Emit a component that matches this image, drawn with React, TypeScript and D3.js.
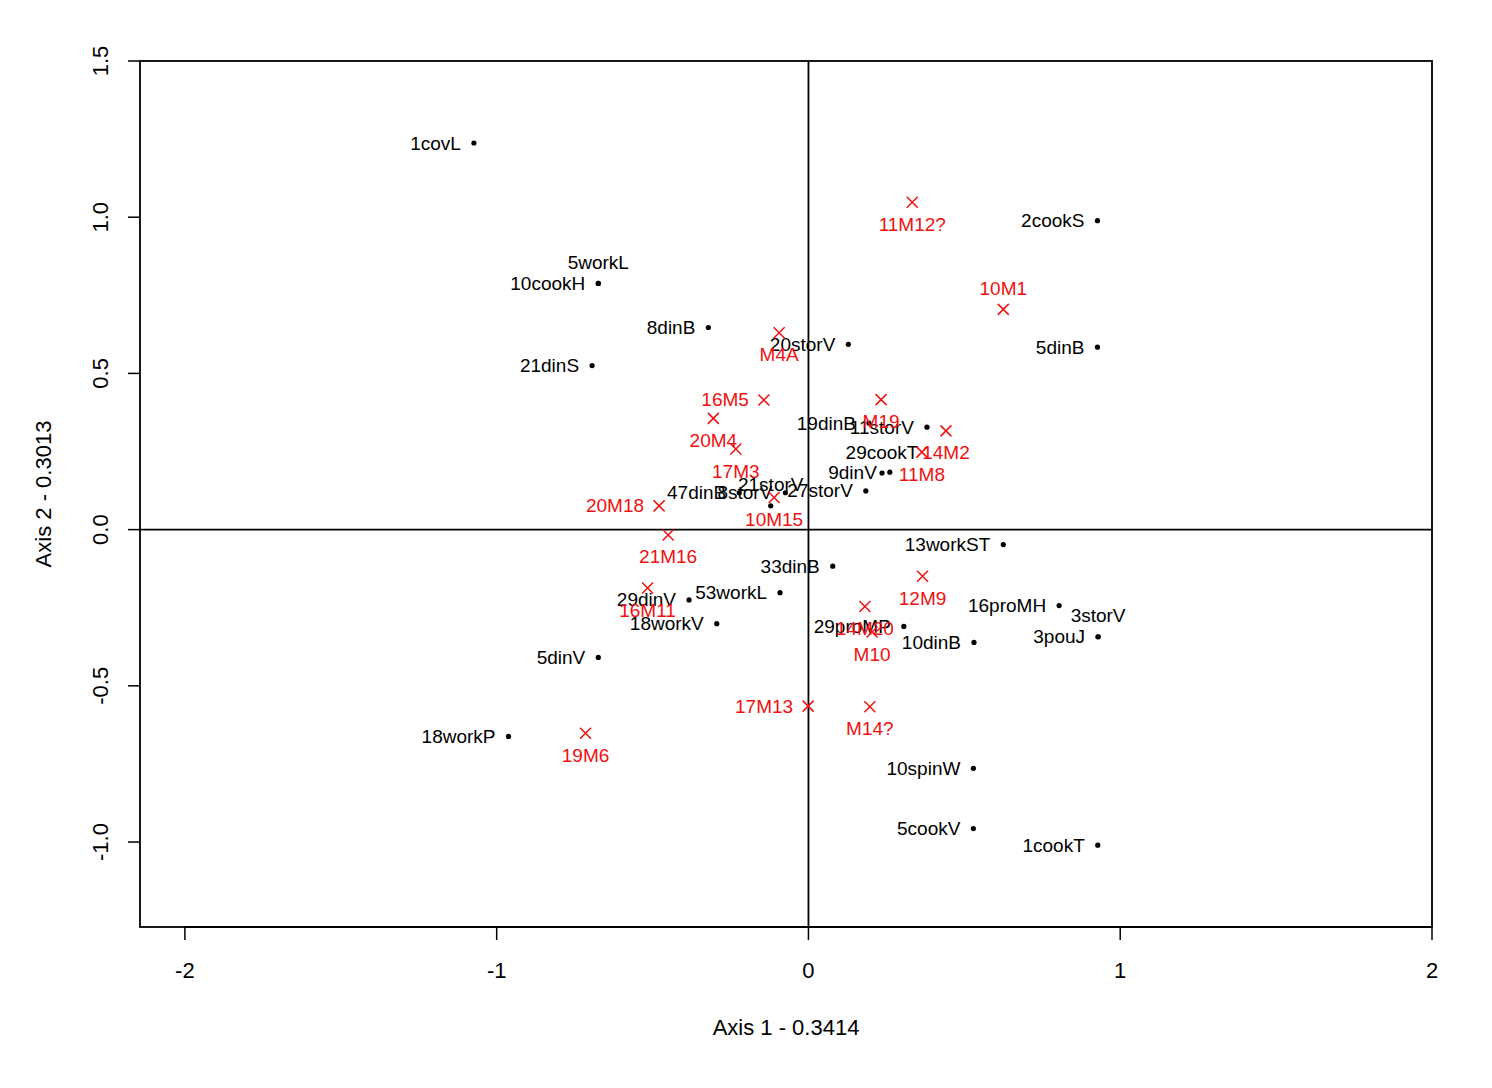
import React from "react";
import * as d3 from "d3";

// Black points (row coordinates)
const blackLabels = ["1covL","2cookS","5workL","10cookH","8dinB","21dinS","20storV","5dinB","19dinB","11storV","29cookT","9dinV","47dinB","8storV","21storV","27storV","13workST","33dinB","53workL","29dinV","18workV","16proMH","3storV","3pouJ","29proMP","10dinB","5dinV","18workP","10spinW","5cookV","1cookT"];
const blackX = [-1.073,0.927,-0.674,-0.674,-0.321,-0.694,0.128,0.927,0.194,0.380,0.236,0.261,-0.222,-0.074,-0.121,0.184,0.625,0.078,-0.091,-0.383,-0.294,0.804,0.929,0.929,0.306,0.531,-0.674,-0.962,0.529,0.529,0.928];
const blackY = [1.2375,0.989,0.788,0.788,0.647,0.525,0.593,0.584,0.341,0.328,0.181,0.184,0.118,0.118,0.076,0.124,-0.048,-0.117,-0.202,-0.225,-0.301,-0.243,-0.343,-0.343,-0.310,-0.361,-0.409,-0.662,-0.764,-0.957,-1.010];

// Red points (column coordinates)
const redLabels = ["11M12?","10M1","M4A","16M5","20M4","17M3","M19","14M2","11M8","20M18","10M15","21M16","16M11","12M9","14M20","M10","17M13","M14?","19M6"];
const redX = [0.333,0.625,-0.094,-0.143,-0.305,-0.233,0.233,0.441,0.364,-0.479,-0.110,-0.450,-0.516,0.366,0.181,0.204,-0.001,0.197,-0.715];
const redY = [1.048,0.705,0.630,0.415,0.356,0.258,0.416,0.316,0.248,0.076,0.103,-0.017,-0.187,-0.149,-0.246,-0.328,-0.565,-0.567,-0.652];

const labelsAbove = ["5workL","21storV","29cookT","3storV","10M1"];
const redLabelsLeft = ["16M5","20M18","17M13"];

const xTicks = [-2,-1,0,1,2];
const yTicks = [-1.0,-0.5,0.0,0.5,1.0,1.5];
const xTitle = "Axis 1 - 0.3414";
const yTitle = "Axis 2 - 0.3013";

const W = 1492, H = 1088;
const box = { left: 140, right: 1432, top: 61, bottom: 927 };
const FONT = "'Liberation Sans', Arial, sans-serif";

export default function App() {
  const x = d3.scaleLinear().domain([-2.144, 2.0]).range([box.left, box.right]);
  const y = d3.scaleLinear().domain([-1.272, 1.5]).range([box.bottom, box.top]);
  const yFmt = (v: number) => d3.format(".1f")(v).replace("\u2212", "-");
  const red = "#f01010";

  return (
    <svg width={W} height={H} style={{ position: "absolute", left: 0, top: 0, background: "#fff" }} fontFamily={FONT}>
      <rect x={0} y={0} width={W} height={H} fill="#fff" />
      {/* reference lines */}
      <line x1={box.left} x2={box.right} y1={y(0)} y2={y(0)} stroke="#000" strokeWidth={1.8} />
      <line x1={x(0)} x2={x(0)} y1={box.top} y2={box.bottom} stroke="#000" strokeWidth={1.8} />
      {/* box */}
      <rect x={box.left} y={box.top} width={box.right - box.left} height={box.bottom - box.top} fill="none" stroke="#000" strokeWidth={1.8} />
      {/* x axis */}
      <line x1={x(xTicks[0])} x2={x(xTicks[xTicks.length - 1])} y1={box.bottom} y2={box.bottom} stroke="#000" strokeWidth={1.8} />
      {xTicks.map((t) => (
        <g key={"xt" + t}>
          <line x1={x(t)} x2={x(t)} y1={box.bottom} y2={box.bottom + 13} stroke="#000" strokeWidth={1.5} />
          <text x={x(t)} y={970} textAnchor="middle" dominantBaseline="central" fontSize={22} fill="#000">{String(t)}</text>
        </g>
      ))}
      {/* y axis */}
      {yTicks.map((t) => (
        <g key={"yt" + t}>
          <line x1={box.left - 12} x2={box.left} y1={y(t)} y2={y(t)} stroke="#000" strokeWidth={1.5} />
          <text transform={`translate(100,${y(t)}) rotate(-90)`} textAnchor="middle" dominantBaseline="central" fontSize={22} fill="#000">{yFmt(t)}</text>
        </g>
      ))}
      <text x={(box.left + box.right) / 2} y={1027} textAnchor="middle" dominantBaseline="central" fontSize={22} fill="#000">{xTitle}</text>
      <text transform={`translate(43,${(box.top + box.bottom) / 2}) rotate(-90)`} textAnchor="middle" dominantBaseline="central" fontSize={22} fill="#000">{yTitle}</text>

      {/* black points */}
      {blackLabels.map((lab, i) => {
        const px = x(blackX[i]), py = y(blackY[i]);
        const above = labelsAbove.includes(lab);
        return (
          <g key={"b" + i}>
            <circle cx={px} cy={py} r={2.6} fill="#000" />
            <text x={above ? px : px - 13} y={above ? py - 21 : py} textAnchor={above ? "middle" : "end"} dominantBaseline="central" fontSize={19} fill="#000">{lab}</text>
          </g>
        );
      })}

      {/* red points */}
      {redLabels.map((lab, i) => {
        const px = x(redX[i]), py = y(redY[i]);
        const above = labelsAbove.includes(lab);
        const left = redLabelsLeft.includes(lab);
        const s = 5.5;
        return (
          <g key={"r" + i}>
            <path d={`M${px - s},${py - s}L${px + s},${py + s}M${px - s},${py + s}L${px + s},${py - s}`} stroke={red} strokeWidth={1.5} fill="none" />
            <text
              x={left ? px - 15 : px}
              y={left ? py : above ? py - 21 : py + 22}
              textAnchor={left ? "end" : "middle"}
              dominantBaseline="central"
              fontSize={19}
              fill={red}
            >{lab}</text>
          </g>
        );
      })}
    </svg>
  );
}
